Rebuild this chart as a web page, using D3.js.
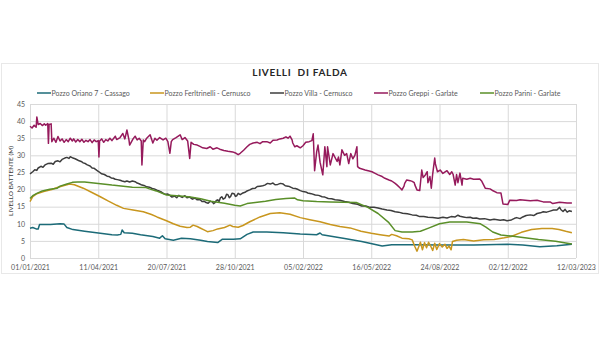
<!DOCTYPE html>
<html><head><meta charset="utf-8">
<script src="https://cdn.jsdelivr.net/npm/d3@7"></script>
<style>body{margin:0;background:#fff}svg{display:block}text{font-family:Lato,"Open Sans",sans-serif}</style>
</head><body><svg id="c" width="600" height="337"></svg>
<script>
const title = "LIVELLI  DI FALDA";
const yTitle = "LIVELLO BATTENTE (M)";
const seriesNames = ["Pozzo Oriano 7 - Cassago","Pozzo Ferltrinelli - Cernusco","Pozzo Villa - Cernusco","Pozzo Greppi - Garlate","Pozzo Parini - Garlate"];
const seriesColors = ["#1c6b78","#c8961e","#3d3d3d","#961a5c","#5a8f29"];
const startDate = "2021-01-01";
const tickDays = [0,100,200,300,400,500,600,700,800];
const yTicks = [0,5,10,15,20,25,30,35,40,45];

// [days since 01/01/2021, level]
const oriano = [[0,8.7],[4,8.9],[9,8.5],[12,8.5],[14,9.8],[30,9.8],[44,10.0],[50,9.9],[54,8.9],[63,8.3],[80,7.8],[103,7.2],[120,6.8],[128,6.7],[133,6.9],[135,8.2],[138,7.4],[150,7.2],[162,6.8],[180,6.3],[190,5.8],[194,6.5],[198,5.6],[210,5.2],[222,5.8],[235,5.6],[250,5.2],[260,4.8],[275,4.5],[282,5.5],[298,5.5],[308,5.6],[318,6.9],[327,7.6],[347,7.6],[371,7.4],[396,7.0],[420,6.8],[425,7.3],[428,6.8],[461,5.7],[486,4.8],[516,3.5],[530,3.9],[560,3.9],[600,3.8],[650,3.8],[700,4.0],[722,3.8],[747,3.3],[772,3.6],[794,4.0]];
const feltrinelli = [[0,16.5],[4,17.9],[10,18.8],[20,19.4],[32,20.0],[40,20.6],[50,21.2],[58,21.6],[65,21.4],[78,20.4],[90,19.2],[103,17.9],[115,16.6],[127,15.4],[137,14.5],[151,14.0],[166,13.5],[178,12.7],[186,12.0],[200,10.9],[210,10.0],[220,9.3],[230,8.9],[235,9.0],[239,9.6],[245,9.2],[250,8.7],[255,8.2],[260,7.7],[268,8.0],[275,8.5],[285,8.9],[293,9.6],[297,9.2],[305,9.0],[312,9.5],[322,10.6],[337,12.0],[352,13.0],[366,13.2],[381,12.8],[396,11.8],[410,11.2],[425,10.6],[440,9.8],[454,9.2],[469,8.8],[485,7.8],[500,7.2],[513,6.8],[526,6.4],[530,6.9],[537,6.5],[545,5.8],[555,5.6],[560,5.3],[564,3.3],[567,2.0],[570,3.5],[572,4.6],[575,2.4],[578,4.5],[581,3.0],[584,4.6],[587,3.5],[590,2.2],[593,4.3],[596,2.5],[600,4.2],[604,3.2],[608,4.0],[611,2.8],[614,3.5],[617,2.4],[619,4.8],[625,5.2],[635,5.4],[650,5.0],[665,5.3],[680,5.4],[695,5.9],[705,6.3],[720,7.5],[735,8.3],[750,8.6],[765,8.6],[775,8.3],[785,7.8],[794,7.4]];
const villa = [[0,24.6],[4,25.2],[7,25.8],[10,25.6],[12,26.3],[16,26.8],[19,26.5],[22,27.2],[26,27.6],[31,27.7],[34,27.4],[37,28.2],[41,28.4],[44,28.1],[47,28.8],[51,29.2],[54,29.4],[57,29.1],[59,29.6],[63,29.2],[66,29.0],[69,28.7],[72,28.4],[75,28.2],[78,27.8],[81,27.6],[84,27.2],[88,26.9],[91,26.3],[94,26.2],[98,25.6],[101,25.2],[105,24.6],[109,24.4],[113,23.9],[116,23.8],[119,23.4],[122,23.3],[125,23.0],[128,22.9],[132,22.7],[135,22.5],[139,22.3],[142,22.5],[146,22.2],[150,22.5],[154,22.3],[157,21.9],[160,21.7],[164,21.3],[167,21.2],[171,20.8],[175,20.7],[179,20.3],[182,20.2],[186,19.8],[189,19.6],[193,19.2],[196,18.8],[199,18.6],[202,18.7],[205,18.3],[208,17.8],[212,18.1],[215,17.6],[218,18.3],[220,18.0],[223,17.7],[227,18.2],[230,17.6],[234,17.8],[238,17.2],[242,17.5],[245,17.0],[249,17.1],[252,16.5],[255,16.6],[258,16.2],[261,16.0],[264,16.6],[267,16.4],[269,15.9],[271,16.2],[273,16.8],[275,17.0],[277,16.5],[279,17.6],[281,17.9],[283,17.2],[286,17.6],[288,18.6],[290,18.5],[292,17.6],[294,18.0],[296,18.9],[299,18.8],[301,18.0],[303,18.2],[305,18.9],[308,18.5],[311,18.9],[315,19.2],[318,19.6],[322,19.9],[326,20.3],[330,20.4],[333,20.9],[337,21.0],[341,21.1],[344,21.3],[348,21.8],[352,21.6],[356,21.9],[359,21.4],[363,21.5],[367,21.8],[371,21.6],[374,21.1],[378,21.0],[381,20.8],[385,20.4],[389,20.3],[393,20.0],[396,19.7],[400,19.4],[404,19.3],[407,19.0],[412,18.8],[418,18.4],[423,18.3],[428,17.9],[432,17.8],[437,17.4],[442,17.3],[447,17.0],[454,16.9],[461,16.5],[467,16.3],[473,15.9],[480,15.7],[486,15.2],[492,15.2],[498,14.8],[504,14.8],[510,14.6],[516,14.3],[523,14.0],[529,13.9],[535,13.5],[540,13.4],[546,13.1],[553,12.9],[560,12.6],[566,12.5],[571,12.1],[577,12.1],[583,11.9],[590,11.8],[598,11.6],[605,11.9],[611,11.7],[617,12.1],[623,12.0],[627,12.5],[630,12.2],[635,12.0],[640,11.8],[645,11.9],[649,11.6],[654,11.7],[659,11.4],[666,11.5],[674,11.1],[680,11.3],[689,11.0],[694,11.2],[699,10.9],[703,11.0],[706,11.2],[710,11.6],[713,11.8],[718,11.5],[722,12.0],[727,12.4],[733,12.6],[738,12.4],[743,13.0],[748,13.2],[752,13.5],[757,13.4],[762,13.7],[767,14.0],[772,14.0],[776,14.8],[778,14.1],[781,13.6],[784,14.2],[787,13.4],[790,13.8],[794,13.6]];
const greppi = [[0,38.5],[3,38.0],[6,38.8],[9,38.2],[10,41.2],[12,39.0],[15,39.3],[18,38.7],[21,39.2],[23,38.8],[26,39.3],[27,33.5],[28,39.0],[31,39.2],[32,34.0],[35,35.0],[38,33.8],[41,35.5],[44,34.2],[47,34.8],[50,33.8],[53,34.6],[56,34.0],[59,35.0],[62,34.2],[64,34.8],[67,33.9],[70,34.6],[73,34.0],[76,34.7],[79,33.8],[82,34.4],[85,34.0],[88,34.6],[91,33.7],[94,34.5],[97,34.0],[100,34.3],[101,29.5],[102,34.2],[105,34.8],[108,33.8],[111,34.6],[114,34.2],[117,35.0],[120,34.3],[125,35.6],[127,34.6],[132,35.2],[136,36.4],[139,34.8],[142,37.4],[145,34.5],[146,33.0],[151,34.8],[154,35.6],[157,34.5],[160,35.0],[163,34.2],[164,27.2],[166,34.5],[168,34.0],[171,35.0],[176,36.0],[180,33.6],[183,35.0],[186,34.4],[190,35.2],[195,34.5],[199,35.0],[202,34.0],[205,30.6],[207,34.0],[209,34.6],[214,35.2],[220,36.0],[223,34.6],[227,35.2],[231,34.2],[234,29.1],[236,33.8],[240,33.2],[245,33.0],[249,32.6],[253,32.2],[259,32.0],[264,32.5],[268,31.8],[274,32.2],[278,31.8],[284,31.4],[290,31.2],[297,31.0],[302,30.6],[305,30.2],[308,30.6],[313,31.5],[318,32.5],[322,33.2],[327,33.6],[333,33.8],[337,33.4],[341,34.0],[347,34.0],[352,33.6],[356,34.4],[362,34.5],[366,34.8],[371,35.0],[375,35.4],[378,35.0],[381,35.6],[384,34.5],[385,33.6],[388,32.5],[391,32.8],[396,32.2],[400,32.8],[404,33.8],[409,34.0],[413,34.3],[415,36.3],[417,25.5],[420,31.0],[422,33.0],[425,28.0],[429,24.3],[432,32.5],[435,26.7],[436,32.5],[440,27.2],[444,30.5],[450,28.2],[452,29.5],[454,27.2],[457,31.6],[461,30.0],[464,30.5],[467,27.6],[470,30.5],[473,29.0],[476,30.0],[479,32.5],[480,26.7],[483,26.2],[491,25.7],[497,25.4],[501,25.2],[505,24.8],[510,24.3],[516,23.8],[520,23.3],[526,22.8],[530,22.5],[535,21.8],[538,21.3],[542,20.5],[545,19.9],[548,21.0],[549,21.8],[552,22.8],[557,22.6],[560,22.4],[563,22.0],[564,21.3],[567,19.9],[571,19.7],[574,25.7],[576,23.5],[579,24.2],[582,25.2],[583,22.0],[586,23.8],[588,20.4],[590,24.5],[593,29.2],[594,27.5],[597,25.2],[601,25.7],[605,24.7],[611,25.5],[615,24.4],[618,25.2],[620,24.4],[623,21.3],[625,24.4],[627,22.0],[630,24.8],[633,21.3],[634,23.3],[640,23.0],[645,23.3],[650,23.0],[659,23.1],[662,22.4],[667,20.4],[674,20.2],[677,19.8],[684,19.1],[690,19.0],[693,15.8],[700,15.6],[703,16.9],[713,16.8],[718,17.0],[733,16.7],[743,16.9],[752,16.4],[762,16.4],[766,15.9],[776,16.3],[787,16.1],[794,16.1]];
const parini = [[0,17.4],[4,18.2],[10,18.9],[18,19.6],[29,20.1],[40,20.4],[44,21.0],[54,21.6],[62,22.1],[70,22.2],[80,22.2],[100,21.8],[120,21.3],[140,20.9],[150,20.7],[170,20.6],[175,20.2],[185,19.6],[200,18.4],[220,18.1],[235,17.8],[250,17.3],[265,16.6],[285,16.0],[300,15.4],[308,15.2],[318,15.9],[330,16.2],[345,16.6],[360,17.1],[375,17.4],[388,17.5],[392,17.0],[400,16.7],[420,16.5],[440,16.4],[460,16.3],[478,16.2],[495,14.8],[510,13.0],[525,10.5],[535,8.0],[545,7.6],[560,7.6],[572,7.8],[585,8.8],[600,10.0],[615,10.5],[640,10.5],[660,10.0],[668,9.0],[678,7.6],[690,6.7],[705,6.4],[725,5.9],[745,5.4],[770,4.9],[785,4.4],[794,4.1]];

const seriesData = [oriano, feltrinelli, villa, greppi, parini];

const svg = d3.select("#c");
const t0 = d3.isoParse(startDate + "T00:00:00");
const dayToDate = d => d3.timeDay.offset(t0, d);
const x = d3.scaleTime().domain([t0, dayToDate(800)]).range([30, 576]);
const y = d3.scaleLinear().domain([0, 45]).range([258, 104]);

// chart frame
svg.append("rect").attr("x", 1.5).attr("y", 63.5).attr("width", 597).attr("height", 210)
  .attr("fill", "none").attr("stroke", "#e8e8e8").attr("stroke-width", 1);

// gridlines
const gx = svg.append("g").attr("transform", "translate(0,258)")
  .call(d3.axisBottom(x).tickValues(tickDays.map(dayToDate)).tickSize(-154).tickFormat(d3.timeFormat("%d/%m/%Y")).tickPadding(7));
gx.select(".domain").remove();
gx.selectAll("line").attr("stroke", "#d9d9d9");
gx.selectAll("text").attr("fill", "#595959").style("font-size", "7px");

const gy = svg.append("g").attr("transform", "translate(30,0)")
  .call(d3.axisLeft(y).tickValues(yTicks).tickSize(-546).tickPadding(5));
gy.select(".domain").remove();
gy.selectAll("line").attr("stroke", "#d9d9d9");
gy.selectAll("text").attr("fill", "#595959").style("font-size", "7px");

// lines
const line = d3.line().x(d => x(dayToDate(d[0]))).y(d => y(d[1]));
seriesData.forEach((s, i) => {
  svg.append("path").datum(s).attr("d", line).attr("fill", "none")
    .attr("stroke", seriesColors[i]).attr("stroke-width", 1.5).attr("stroke-linejoin", "round");
});

// title
svg.append("text").attr("x", 300).attr("y", 76).attr("text-anchor", "middle")
  .style("font-size", "10px").style("font-weight", "bold").style("letter-spacing", "0.7px")
  .attr("fill", "#262626").style("white-space", "pre").text(title);

// y title
svg.append("text").attr("transform", "translate(13,181) rotate(-90)").attr("text-anchor", "middle")
  .style("font-size", "6.5px").attr("fill", "#404040").text(yTitle);

// legend
const legendX = [37, 150, 270, 374, 480];
const lg = svg.append("g");
seriesNames.forEach((n, i) => {
  lg.append("line").attr("x1", legendX[i]).attr("x2", legendX[i] + 14).attr("y1", 93).attr("y2", 93)
    .attr("stroke", seriesColors[i]).attr("stroke-width", 1.5);
  lg.append("text").attr("x", legendX[i] + 14.5).attr("y", 95.5).style("font-size", "7px")
    .attr("fill", "#595959").text(n);
});
</script></body></html>
